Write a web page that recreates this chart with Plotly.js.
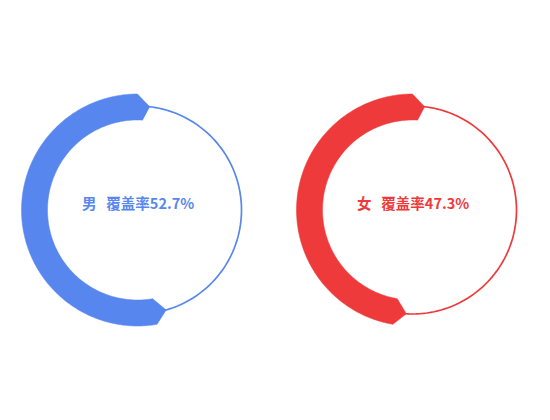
<!DOCTYPE html>
<html>
<head>
<meta charset="utf-8">
<script src="https://cdn.plot.ly/plotly-3.0.1.min.js"></script>
<style>html,body{margin:0;padding:0;background:#fff;}#chart{width:550px;height:420px;}</style>
</head>
<body>
<div id="chart"></div>
<script>
// ---- data ----
const genders = ['男', '女'];
const coverage = [52.7, 47.3];
const seriesColors = ['#5787EE', '#EE3A3B'];
const labelPrefix = '覆盖率';

// ---- geometry (style) ----
const R_OUT = 116, R_IN = 90, R_RING = 104;
const TIP_END = 6.3, TIP_START = 6.7, START_INNER = 3.2;

function bandShape(pct) {
  const V = pct * 3.6;
  const th = [], r = [];
  for (let a = 0; a <= V; a += 1) { th.push(a); r.push(R_OUT); }
  th.push(V); r.push(R_OUT);
  th.push(V + TIP_END); r.push(R_RING);
  th.push(V); r.push(R_IN);
  for (let a = V; a >= -START_INNER; a -= 1) { th.push(a); r.push(R_IN); }
  th.push(-START_INNER); r.push(R_IN);
  th.push(-TIP_START); r.push(R_RING);
  th.push(0); r.push(R_OUT);
  return {th, r};
}

const traces = [];
const annotations = [];
const layout = {
  width: 550, height: 420,
  margin: {l: 0, r: 0, t: 0, b: 0},
  paper_bgcolor: '#fff',
  showlegend: false,
  dragmode: false,
  annotations: annotations
};

genders.forEach((g, i) => {
  const sub = i === 0 ? 'polar' : 'polar' + (i + 1);
  const ringTh = [], ringR = [];
  for (let a = 0; a <= 360; a += 2) { ringTh.push(a); ringR.push(R_RING); }
  traces.push({
    type: 'scatterpolar', subplot: sub, mode: 'lines',
    theta: ringTh, r: ringR,
    line: {color: seriesColors[i], width: 1.7},
    hoverinfo: 'skip'
  });
  const s = bandShape(coverage[i]);
  traces.push({
    type: 'scatterpolar', subplot: sub, mode: 'lines',
    theta: s.th, r: s.r, fill: 'toself',
    fillcolor: seriesColors[i],
    line: {color: seriesColors[i], width: 0.5},
    name: g, hoverinfo: 'name'
  });
  layout[sub] = {
    domain: {x: [i * 0.5, i * 0.5 + 0.5], y: [0, 1]},
    bgcolor: 'rgba(0,0,0,0)',
    angularaxis: {visible: false, rotation: 90, direction: 'counterclockwise', showgrid: false, showline: false, showticklabels: false, ticks: ''},
    radialaxis: {visible: false, range: [0, 137.5], showgrid: false, showline: false, showticklabels: false, ticks: ''}
  };
  annotations.push({
    xref: 'paper', yref: 'paper',
    x: 0.25 + i * 0.5, y: (420 - 203) / 420,
    xanchor: 'center', yanchor: 'middle',
    showarrow: false,
    text: '<b>' + g + '\u00a0\u00a0\u00a0' + labelPrefix + coverage[i].toFixed(1) + '%</b>',
    font: {family: '"Noto Sans CJK SC", "Noto Sans", sans-serif', size: 14.5, color: seriesColors[i]}
  });
});

Plotly.newPlot('chart', traces, layout, {displayModeBar: false, staticPlot: true});
</script>
</body>
</html>
